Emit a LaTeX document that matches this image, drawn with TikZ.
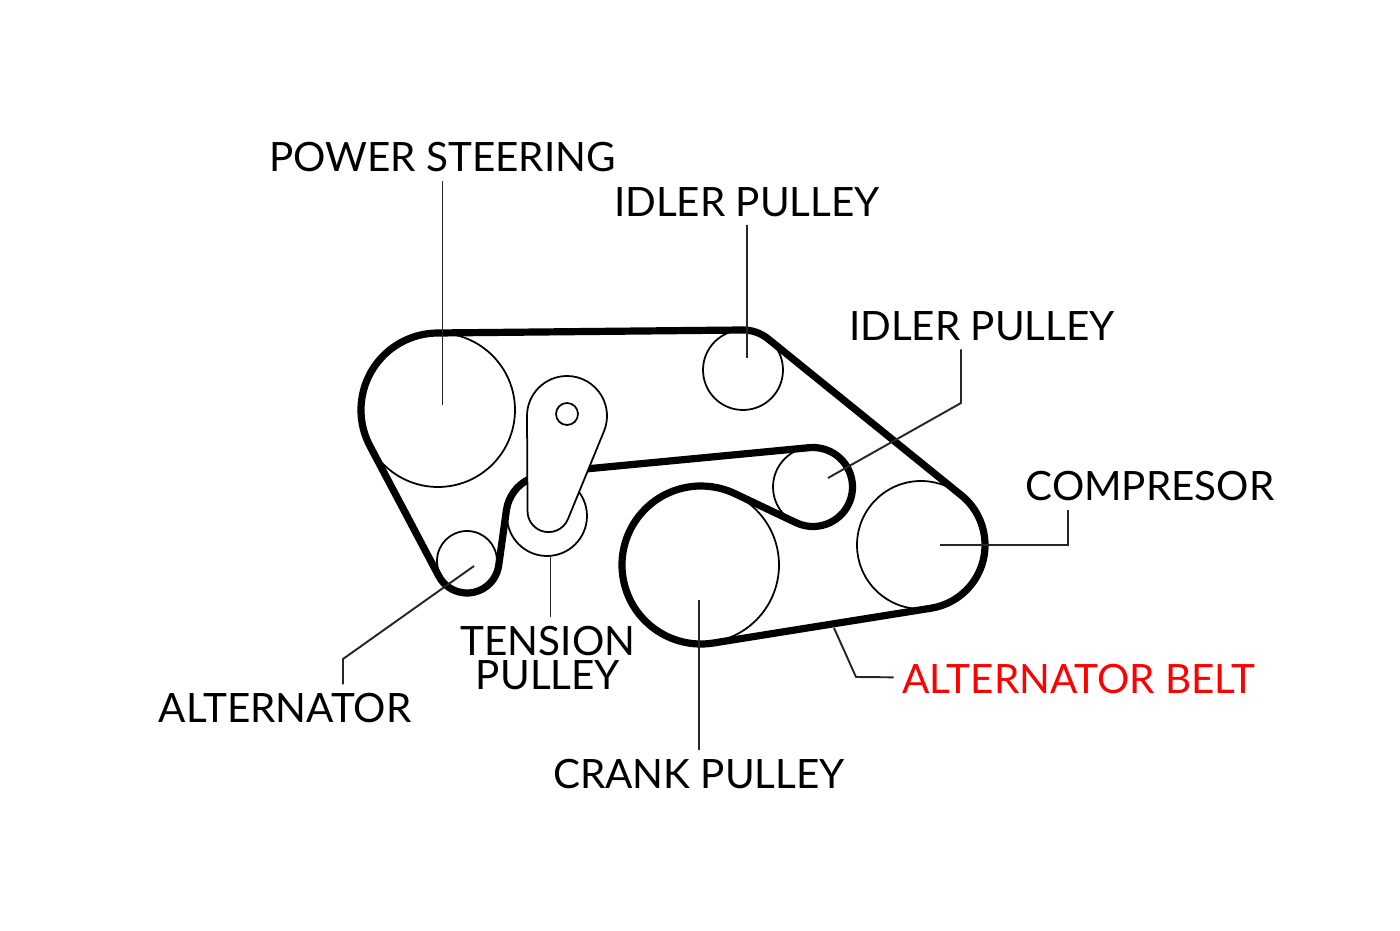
\documentclass[tikz,border=0pt]{standalone}
\usepackage{fontspec}
\setmainfont{Lato}
\usetikzlibrary{calc}
\tikzset{
    pulley/.style={circle, draw=black, line width=1pt, inner sep=0pt, fill=white},
    belt/.style={draw=black, line width=4.1pt, line join=round},
    armline/.style={draw=black, line width=1pt, fill=white},
    leader/.style={draw=black!85, line width=1.1pt},
    tag/.style={inner sep=0pt, outer sep=5pt, align=center, text=black, font=\fontsize{23}{19.4}\selectfont}
}
\begin{document}
\begin{tikzpicture}[x=0.02cm, y=0.02cm]
    \useasboundingbox (0,0) rectangle (1400,930);

    % Pulleys, size is twice the radius in 0.02cm steps
    \node[pulley, minimum size=3.08cm] (power) at (438,520) {};
    \node[pulley, minimum size=1.60cm] (idlera) at (743,560) {};
    \node[pulley, minimum size=1.60cm] (idlerb) at (813,443) {};
    \node[pulley, minimum size=2.56cm] (compressor) at (921,385) {};
    \node[pulley, minimum size=3.12cm] (crank) at (701,365) {};
    \node[pulley, minimum size=1.20cm] (alternator) at (467,369) {};
    \node[pulley, minimum size=1.60cm] (tension) at (547,414) {};

    % Belt, runs behind the tensioner arm
    \draw[belt] ($(tension)+(115:41)$) arc[start angle=115, end angle=172.1, radius=41]
        -- ($(alternator)+(-7.9:32)$) arc[start angle=-7.9, end angle=-152.1, radius=32]
        -- ($(power)+(207.9:77)$) arc[start angle=207.9, end angle=90.6, radius=77]
        -- ($(idlera)+(90.6:40)$) arc[start angle=90.6, end angle=51, radius=40]
        -- ($(compressor)+(51:64)$) arc[start angle=51, end angle=-81, radius=64]
        -- ($(crank)+(-81:79)$) arc[start angle=-81, end angle=-295.7, radius=79]
        -- ($(idlerb)+(244.3:39.5)$) arc[start angle=244.3, end angle=455, radius=39.5]
        -- (575,460);

    % Tensioner arm with its hole
    \draw[armline] (527,514) arc[start angle=180, end angle=-22, radius=40]
        -- (568,411) arc[start angle=-22, end angle=-180, radius=21] -- cycle;
    \node[pulley, minimum size=0.44cm] (armhole) at (567,516) {};

    % Labels
    \node[tag] (tagpower) at (442.5,773) {POWER STEERING};
    \node[tag] (tagidlera) at (747,728) {IDLER PULLEY};
    \node[tag] (tagidlerb) at (982,604) {IDLER PULLEY};
    \node[tag] (tagcompressor) at (1150,444) {COMPRESOR};
    \node[tag, text=red] (tagbelt) at (1079,251) {ALTERNATOR BELT};
    \node[tag] (tagtension) at (548,272) {TENSION\\PULLEY};
    \node[tag] (tagalternator) at (285,222) {ALTERNATOR};
    \node[tag] (tagcrank) at (699,156) {CRANK PULLEY};

    % Ends and bends of the leader lines
    \coordinate (powerend) at (442.5,525);
    \coordinate (idleraend) at (747,572);
    \coordinate (idlerbbend) at (961,527);
    \coordinate (idlerbend) at (828,452);
    \coordinate (compressorbend) at (1068,385);
    \coordinate (compressorend) at (940,385);
    \coordinate (tensionend) at (550.5,375);
    \coordinate (alternatorbend) at (343,271);
    \coordinate (alternatorend) at (474,364);
    \coordinate (crankend) at (699,330);
    \coordinate (beltbend) at (856,253);
    \coordinate (beltend) at (834,302);

    % Leader lines
    \draw[leader] (tagpower) -- (powerend);
    \draw[leader] (tagidlera) -- (idleraend);
    \draw[leader] (tagidlerb.south -| idlerbbend) -- (idlerbbend) -- (idlerbend);
    \draw[leader] (tagcompressor.south -| compressorbend) -- (compressorbend) -- (compressorend);
    \draw[leader] (tagtension.north -| tensionend) -- (tensionend);
    \draw[leader] (tagalternator.north -| alternatorbend) -- (alternatorbend) -- (alternatorend);
    \draw[leader] (tagcrank) -- (crankend);
    \draw[leader] (tagbelt) -- (beltbend) -- (beltend);
\end{tikzpicture}
\end{document}
